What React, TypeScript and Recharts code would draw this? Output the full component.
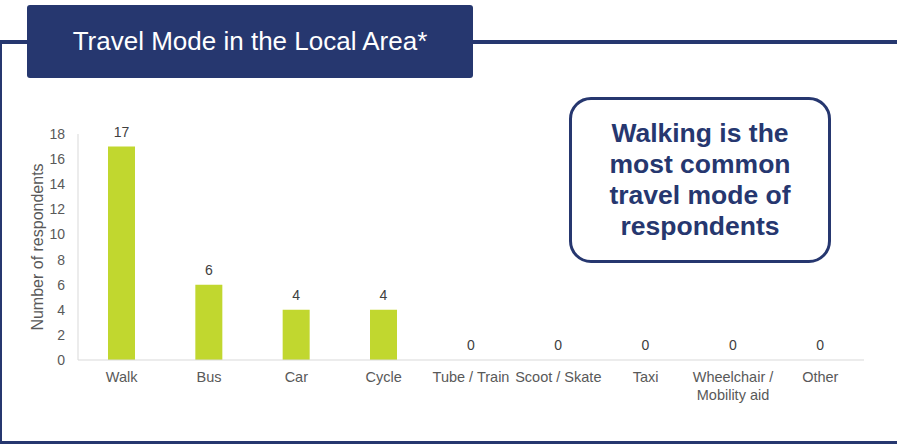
import { BarChart, Bar, XAxis, YAxis, LabelList } from 'recharts';

const modes = ['Walk', 'Bus', 'Car', 'Cycle', 'Tube / Train', 'Scoot / Skate', 'Taxi', 'Wheelchair /\nMobility aid', 'Other'];
const respondents = [17, 6, 4, 4, 0, 0, 0, 0, 0];
const yTicks = [0, 2, 4, 6, 8, 10, 12, 14, 16, 18];

const NAVY = '#26376f';
const GREEN = '#c1d72f';
const FONT = "'Liberation Sans', Arial, sans-serif";

const chartData = modes.map((mode, i) => ({ mode, value: respondents[i] }));

function ModeTick({ x, y, payload }: any) {
  const lines = String(payload.value).split('\n');
  return (
    <text x={x} y={y} textAnchor="middle" fill="#595959" fontSize={14.5} fontFamily={FONT}>
      {lines.map((line, i) => (
        <tspan key={i} x={x} dy={i === 0 ? '0.71em' : '1.2em'}>
          {line}
        </tspan>
      ))}
    </text>
  );
}

function AxisTitle({ viewBox }: any) {
  const cx = viewBox.x + 19;
  const cy = viewBox.y + viewBox.height / 2;
  return (
    <text
      x={cx}
      y={cy}
      transform={`rotate(-90 ${cx} ${cy})`}
      textAnchor="middle"
      dominantBaseline="central"
      fill="#595959"
      fontSize={16}
      fontFamily={FONT}
    >
      Number of respondents
    </text>
  );
}

export default function App() {
  return (
    <div style={{ position: 'absolute', left: 0, top: 0, width: 897, height: 444, background: '#fff', overflow: 'hidden', fontFamily: FONT }}>
      {/* frame lines */}
      <div style={{ position: 'absolute', left: 0, top: 40, width: 897, height: 4, background: NAVY }} />
      <div style={{ position: 'absolute', left: 0, top: 40, width: 2, height: 404, background: NAVY }} />
      <div style={{ position: 'absolute', left: 0, top: 441, width: 897, height: 3, background: NAVY }} />

      {/* title box */}
      <div
        style={{
          position: 'absolute',
          left: 27,
          top: 5,
          width: 446,
          height: 73,
          background: NAVY,
          borderRadius: 3,
          color: '#fff',
          fontSize: 26,
          display: 'flex',
          alignItems: 'center',
          justifyContent: 'center',
        }}
      >
        Travel Mode in the Local Area*
      </div>

      <div style={{ position: 'absolute', left: 0, top: 0 }}>
        <BarChart width={897} height={444} data={chartData} margin={{ top: 134, right: 33, bottom: 54, left: 18 }}>
          <XAxis
            dataKey="mode"
            interval={0}
            tickLine={false}
            tickMargin={6}
            axisLine={{ stroke: '#d9d9d9' }}
            tick={<ModeTick />}
            height={30}
          />
          <YAxis
            domain={[0, 18]}
            ticks={yTicks}
            width={60}
            tickLine={false}
            tickMargin={7}
            axisLine={{ stroke: '#d9d9d9' }}
            tick={{ fill: '#595959', fontSize: 14, fontFamily: FONT }}
            label={<AxisTitle />}
          />
          <Bar dataKey="value" fill={GREEN} barSize={27} minPointSize={0.01} isAnimationActive={false}>
            <LabelList dataKey="value" position="top" offset={10} fill="#404040" fontSize={14} fontFamily={FONT} />
          </Bar>
        </BarChart>
      </div>

      {/* callout */}
      <div
        style={{
          position: 'absolute',
          left: 569,
          top: 97,
          width: 256,
          height: 160,
          border: `3px solid ${NAVY}`,
          borderRadius: 22,
          color: NAVY,
          fontWeight: 'bold',
          fontSize: 26.5,
          lineHeight: '31px',
          textAlign: 'center',
          display: 'flex',
          alignItems: 'center',
          justifyContent: 'center',
        }}
      >
        Walking is the
        <br />
        most common
        <br />
        travel mode of
        <br />
        respondents
      </div>
    </div>
  );
}
